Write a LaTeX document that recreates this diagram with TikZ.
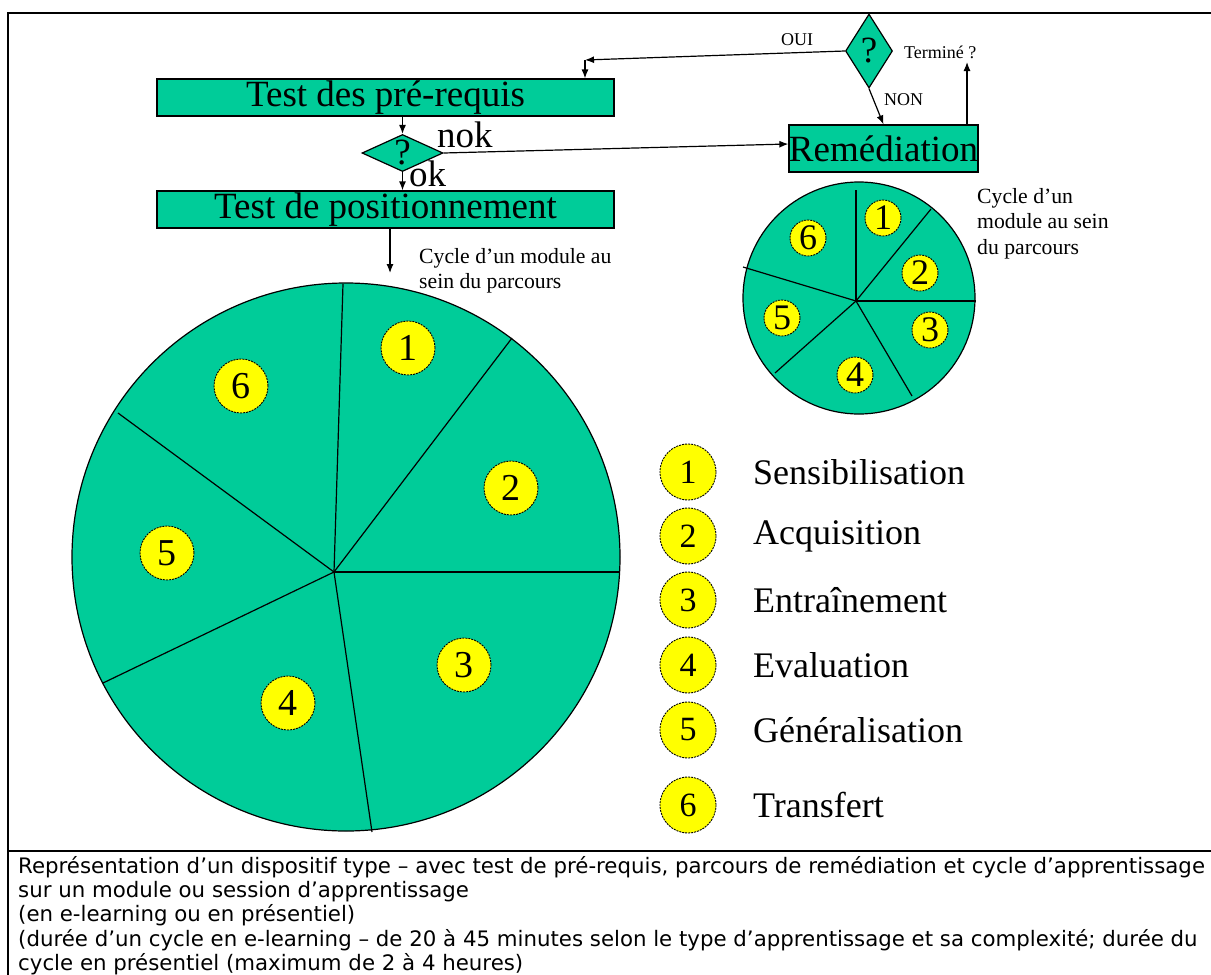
\documentclass[tikz,border=0pt]{standalone}
\usepackage{fontspec}
\setmainfont{Liberation Serif}
\newfontfamily\capfont{DejaVu Sans}
\usetikzlibrary{shapes.geometric,arrows.meta}
\definecolor{vert}{RGB}{0,204,153}
\definecolor{jaune}{RGB}{255,255,0}

\begin{document}
\begin{tikzpicture}[x=1pt,y=-1pt]
    \tikzset{%
      box/.style={rectangle, draw, fill=vert, inner sep=0pt, line width=1.2pt,
        font=\fontsize{37}{40}\selectfont},
      decide/.style={diamond, draw, fill=vert, inner sep=0pt, line width=1.2pt},
      num/.style={circle, draw, fill=jaune, inner sep=0pt, line width=0.9pt,
        dash pattern=on 2pt off 1pt},
      arr/.style={-{Latex[length=9pt,width=7pt]}, line width=1.2pt},
      big/.style={font=\fontsize{37}{40}\selectfont, inner sep=0pt},
      note/.style={font=\fontsize{21.7}{25.5}\selectfont, align=left,
        anchor=north west, inner sep=0pt},
      tiny/.style={font=\fontsize{18}{20}\selectfont, anchor=base west,
        inner sep=0pt},
      leg/.style={font=\fontsize{36}{40}\selectfont, anchor=west, inner sep=0pt},
    }
    \useasboundingbox (0,0) rectangle (1211,975);
    % cadre du tableau
    \draw[line width=2.5pt] (1211,13) -- (8,13) -- (8,975);
    \draw[line width=2.5pt] (8,851) -- (1211,851);

    % parcours
    \node[box, minimum width=457, minimum height=37] (pre) at (385.5,97.5) {Test des pré-requis};
    \node[decide, minimum width=81, minimum height=37] (q1) at (402.5,153) {};
    \node[big] (q1t) at (q1) {?};
    \node[box, minimum width=457, minimum height=37] (pos) at (385.5,209.5) {Test de positionnement};
    \node[box, minimum width=187, minimum height=47] (rem) at (883.5,148.5) {Remédiation};
    \node[decide, minimum width=47, minimum height=74] (q2) at (869,51) {};
    \node[big] (q2t) at (q2) {?};

    \draw[arr] (pre.south -| q1) -- (q1.north);
    \draw[arr] (q1.south) -- (pos.north -| q1.south);
    \draw[arr] (q1.east) -- ([yshift=4.5pt]rem.west);
    \node[big, anchor=base west] (nok) at (437,147) {nok};
    \node[big, anchor=base west] (ok) at (409,186) {ok};

    \coordinate (oui) at (585,60);
    \draw[arr] (q2.west) -- (oui);
    \draw[arr] (oui) -- (pre.north -| oui);
    \node[tiny] (ouit) at (781,45) {OUI};
    \draw[arr] (q2.south) -- (rem.north);
    \node[tiny] (non) at (884,105) {NON};
    \coordinate (fin) at (967,62);
    \draw[arr] (rem.north -| fin) -- (fin);
    \node[tiny] (term) at (904,58) {Terminé ?};

    \coordinate (cyc) at (390,273);
    \draw[arr] (pos.south -| cyc) -- (cyc);

    % grand cycle
    \coordinate (bc) at (334,572);
    \draw[fill=vert, line width=1.2pt] (346,557) circle [radius=274];
    \foreach \p in {(343,284),(512,338),(619,572),(372,832),(103,683),(118,413)}
      \draw[line width=1.2pt] (bc) -- \p;
    \node[num, minimum size=54, font=\fontsize{38}{40}\selectfont] (b1) at (408,348) {1};
    \node[num, minimum size=54, font=\fontsize{38}{40}\selectfont] (b2) at (511,488) {2};
    \node[num, minimum size=54, font=\fontsize{38}{40}\selectfont] (b3) at (464,665) {3};
    \node[num, minimum size=54, font=\fontsize{38}{40}\selectfont] (b4) at (288,703) {4};
    \node[num, minimum size=54, font=\fontsize{38}{40}\selectfont] (b5) at (167,553) {5};
    \node[num, minimum size=54, font=\fontsize{38}{40}\selectfont] (b6) at (241,386) {6};
    \node[note] (cyct) at (419,248) {Cycle d’un module au\\sein du parcours};

    % petit cycle
    \coordinate (sc) at (856,301);
    \draw[fill=vert, line width=1.2pt] (859,298) circle [radius=116];
    \foreach \p in {(856,190),(931,209),(976,301),(912,396),(775,373),(743,267)}
      \draw[line width=1.2pt] (sc) -- \p;
    \node[num, minimum size=36, font=\fontsize{36}{38}\selectfont] (s1) at (883,218) {1};
    \node[num, minimum size=36, font=\fontsize{36}{38}\selectfont] (s2) at (920,273) {2};
    \node[num, minimum size=36, font=\fontsize{36}{38}\selectfont] (s3) at (930,330) {3};
    \node[num, minimum size=36, font=\fontsize{36}{38}\selectfont] (s4) at (855,375) {4};
    \node[num, minimum size=36, font=\fontsize{36}{38}\selectfont] (s5) at (782,318) {5};
    \node[num, minimum size=36, font=\fontsize{36}{38}\selectfont] (s6) at (808,238) {6};
    \node[note] (remt) at (977,188) {Cycle d’un\\module au sein\\du parcours};

    % legende
    \foreach \i/\y/\t in {1/472/Sensibilisation, 2/536/Acquisition, 3/600/Entraînement,
        4/665/Evaluation, 5/730/Généralisation, 6/805/Transfert}{
      \node[num, minimum size=56, font=\fontsize{34}{36}\selectfont] (l\i) at (688,\y) {\i};
      \node[leg] (lt\i) at (753,\y) {\t};
    }

    % legende du tableau
    \node[font=\capfont\fontsize{21.3}{24.3}\selectfont, align=left, anchor=north west,
      inner sep=0pt] (cap) at (18,856)
      {Représentation d’un dispositif type – avec test de pré-requis, parcours de remédiation et cycle d’apprentissage\\
       sur un module ou session d’apprentissage\\
       (en e-learning ou en présentiel)\\
       (durée d’un cycle en e-learning – de 20 à 45 minutes selon le type d’apprentissage et sa complexité; durée du\\
       cycle en présentiel (maximum de 2 à 4 heures)};
\end{tikzpicture}
\end{document}
